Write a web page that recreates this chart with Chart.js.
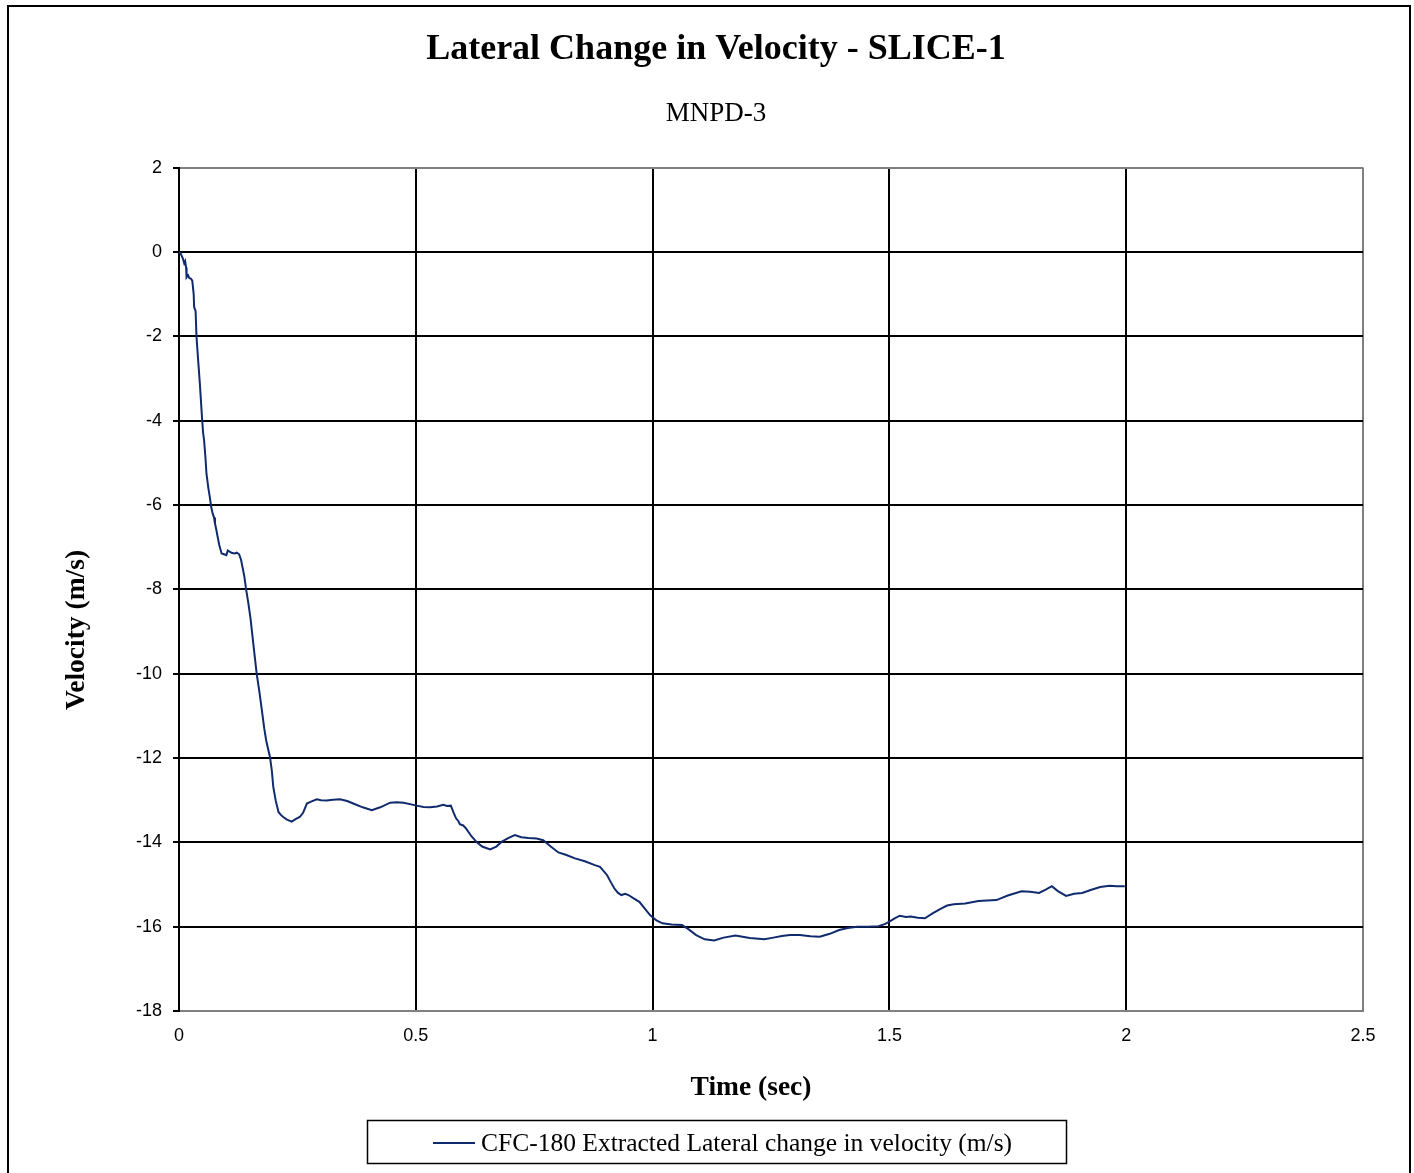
<!DOCTYPE html>
<html><head><meta charset="utf-8">
<script src="https://cdn.jsdelivr.net/npm/chart.js@4.4.1/dist/chart.umd.min.js"></script>
<style>html,body{margin:0;padding:0;background:#fff}#wrap{width:1414px;height:1173px}</style>
</head><body><div id="wrap"><canvas id="c" width="1414" height="1173"></canvas></div>
<script>
const chartTitle = 'Lateral Change in Velocity - SLICE-1';
const chartSubtitle = 'MNPD-3';
const xAxisTitle = 'Time (sec)';
const yAxisTitle = 'Velocity (m/s)';
const seriesLabel = 'CFC-180 Extracted Lateral change in velocity (m/s)';
const seriesColor = '#102a6e';

const timeSec = [0,0.004,0.008,0.011,0.013,0.015,0.016,0.019,0.022,0.025,0.028,0.031,0.032,0.035,0.037,0.040,0.044,0.049,0.051,0.053,0.056,0.058,0.062,0.065,0.068,0.071,0.074,0.076,0.079,0.081,0.085,0.090,0.095,0.100,0.103,0.106,0.112,0.118,0.122,0.127,0.131,0.134,0.138,0.141,0.146,0.151,0.156,0.160,0.164,0.170,0.175,0.180,0.184,0.188,0.192,0.196,0.199,0.204,0.210,0.215,0.220,0.228,0.238,0.246,0.255,0.262,0.270,0.280,0.291,0.300,0.312,0.325,0.340,0.355,0.368,0.388,0.407,0.425,0.446,0.460,0.474,0.490,0.502,0.516,0.530,0.545,0.558,0.566,0.574,0.580,0.585,0.590,0.593,0.600,0.606,0.617,0.628,0.640,0.657,0.670,0.681,0.695,0.709,0.723,0.738,0.755,0.769,0.785,0.801,0.818,0.836,0.857,0.878,0.889,0.904,0.912,0.919,0.927,0.934,0.942,0.949,0.960,0.972,0.984,0.995,1.008,1.021,1.040,1.062,1.077,1.092,1.110,1.130,1.150,1.175,1.205,1.236,1.255,1.273,1.290,1.311,1.333,1.353,1.374,1.394,1.412,1.432,1.455,1.477,1.490,1.500,1.512,1.522,1.535,1.545,1.560,1.575,1.592,1.609,1.622,1.636,1.660,1.688,1.706,1.726,1.750,1.779,1.797,1.816,1.830,1.843,1.855,1.873,1.890,1.907,1.925,1.945,1.965,1.980,1.997];
const velocity = [0,-0.05,-0.15,-0.27,-0.22,-0.37,-0.6,-0.55,-0.62,-0.63,-0.68,-1.0,-1.31,-1.4,-2.02,-2.5,-3.12,-4.0,-4.3,-4.47,-4.9,-5.26,-5.6,-5.81,-6.05,-6.2,-6.3,-6.44,-6.6,-6.72,-6.95,-7.15,-7.17,-7.19,-7.08,-7.1,-7.14,-7.15,-7.13,-7.17,-7.3,-7.47,-7.7,-7.95,-8.3,-8.69,-9.2,-9.6,-10.0,-10.45,-10.87,-11.3,-11.58,-11.78,-11.97,-12.3,-12.68,-13.0,-13.28,-13.35,-13.4,-13.46,-13.51,-13.45,-13.4,-13.3,-13.08,-13.03,-12.98,-13.0,-13.01,-12.99,-12.98,-13.02,-13.08,-13.17,-13.24,-13.17,-13.06,-13.05,-13.06,-13.1,-13.13,-13.16,-13.17,-13.15,-13.11,-13.14,-13.13,-13.3,-13.43,-13.5,-13.57,-13.6,-13.67,-13.85,-13.99,-14.1,-14.17,-14.1,-13.99,-13.9,-13.83,-13.88,-13.9,-13.91,-13.95,-14.1,-14.24,-14.3,-14.38,-14.45,-14.54,-14.58,-14.78,-14.95,-15.09,-15.2,-15.25,-15.22,-15.25,-15.33,-15.41,-15.58,-15.73,-15.85,-15.92,-15.95,-15.96,-16.07,-16.2,-16.3,-16.33,-16.26,-16.21,-16.27,-16.3,-16.26,-16.22,-16.2,-16.2,-16.23,-16.24,-16.17,-16.08,-16.03,-16.0,-16.0,-15.99,-15.94,-15.88,-15.8,-15.74,-15.77,-15.76,-15.79,-15.8,-15.68,-15.57,-15.5,-15.47,-15.45,-15.39,-15.38,-15.37,-15.26,-15.16,-15.17,-15.2,-15.12,-15.04,-15.15,-15.27,-15.22,-15.2,-15.13,-15.06,-15.03,-15.04,-15.04];

const xTickLabels = ['0','0.5','1','1.5','2','2.5'];
const yTickLabels = ['-18','-16','-14','-12','-10','-8','-6','-4','-2','0','2'];

const decor = {
  id: 'decor',
  beforeDraw(chart) {
    const ctx = chart.ctx;
    ctx.save(); ctx.fillStyle = '#fff'; ctx.fillRect(0, 0, chart.width, chart.height); ctx.restore();
  },
  afterDraw(chart) {
    const ctx = chart.ctx;
    ctx.save();
    ctx.strokeStyle = '#000'; ctx.lineWidth = 2;
    ctx.strokeRect(8, 6, 1402, 1200);
    ctx.fillStyle = '#000';
    ctx.font = 'bold 27.5px "Liberation Serif"';
    ctx.textAlign = 'center'; ctx.textBaseline = 'middle';
    ctx.fillText(xAxisTitle, 751, 1088);
    ctx.save(); ctx.translate(77, 630); ctx.rotate(-Math.PI / 2); ctx.fillText(yAxisTitle, 0, 0); ctx.restore();
    ctx.lineWidth = 1.5; ctx.strokeStyle = '#000';
    ctx.strokeRect(367.5, 1120.5, 699, 43);
    ctx.strokeStyle = seriesColor; ctx.lineWidth = 2;
    ctx.beginPath(); ctx.moveTo(433, 1143); ctx.lineTo(475, 1143); ctx.stroke();
    ctx.font = '25.5px "Liberation Serif"'; ctx.textAlign = 'left';
    ctx.fillText(seriesLabel, 481, 1144);
    ctx.restore();
  }
};

new Chart(document.getElementById('c'), {
  type: 'line',
  data: {
    datasets: [{
      label: seriesLabel,
      data: timeSec.map((t, i) => ({ x: t, y: velocity[i] })),
      borderColor: seriesColor,
      borderWidth: 2,
      pointRadius: 0,
      tension: 0,
      fill: false
    }]
  },
  options: {
    responsive: false,
    animation: false,
    layout: { padding: { left: 69, right: 51, top: 0, bottom: 0 } },
    plugins: {
      legend: { display: false },
      tooltip: { enabled: false },
      title: { display: true, text: chartTitle, color: '#000', font: { family: 'Liberation Serif', size: 36, weight: 'bold', lineHeight: 1.2 }, padding: { top: 28, bottom: 0 } },
      subtitle: { display: true, text: chartSubtitle, color: '#000', font: { family: 'Liberation Serif', size: 27, weight: 'normal', lineHeight: 1.2 }, padding: { top: 27, bottom: 37 } }
    },
    scales: {
      x: {
        type: 'linear', min: 0, max: 2.5,
        afterFit(s) { s.height = 162; },
        ticks: { stepSize: 0.5, color: '#000', font: { family: 'Liberation Sans', size: 18 }, padding: 14, maxRotation: 0,
          callback: (v, i) => xTickLabels[i] },
        grid: { drawTicks: false, lineWidth: 2, color: c => (c.tick && c.tick.value === 2.5) ? '#808080' : '#000' },
        border: { display: true, color: '#808080', width: 2 }
      },
      y: {
        type: 'linear', min: -18, max: 2,
        afterFit(s) { s.width = 110; },
        ticks: { stepSize: 2, color: '#000', font: { family: 'Liberation Sans', size: 18 }, padding: 11,
          callback: (v, i) => yTickLabels[i] },
        grid: { drawTicks: true, tickLength: 6, tickColor: '#000', lineWidth: 2,
          color: c => (c.tick && (c.tick.value === 2 || c.tick.value === -18)) ? '#808080' : '#000' },
        border: { display: true, color: '#000', width: 2 }
      }
    }
  },
  plugins: [decor]
});
</script></body></html>
